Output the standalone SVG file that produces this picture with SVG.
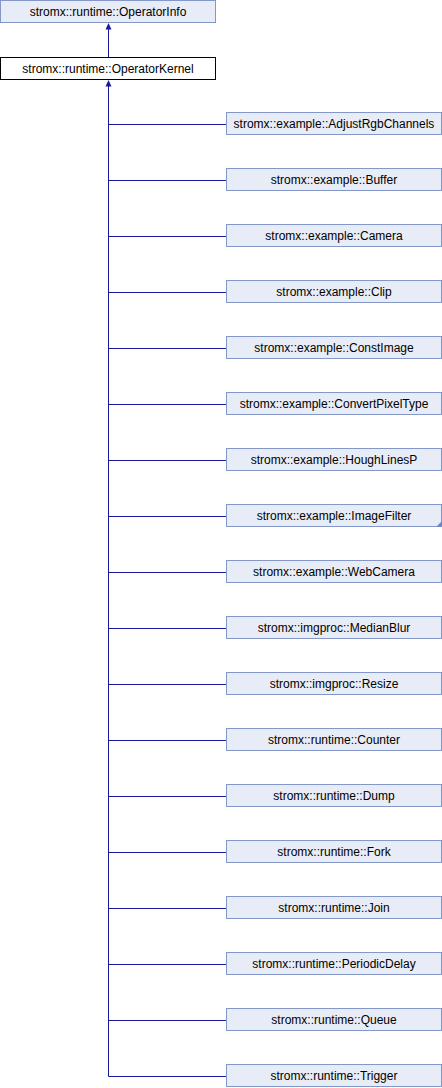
<svg xmlns="http://www.w3.org/2000/svg" width="442" height="1088" viewBox="0 0 442 1088">
<style>
.n rect{fill:#E8ECF6;stroke:#8497C9;stroke-width:1}
.cur rect{fill:#FFFFFF;stroke:#000000}
text{font-family:"Liberation Sans",Arial,sans-serif;font-size:12px;fill:#000;text-anchor:middle}
.e{stroke:#1A1A9A;stroke-width:1;fill:none}
.ah{fill:#1A1A9A}
</style>
<rect width="442" height="1088" fill="#FFFFFF"/>
<g id="connectors">
<path class="e" d="M108.5 57 V28"/>
<path class="ah" d="M108.5 23 L105.5 29.5 L111.5 29.5 Z"/>
<path class="e" d="M108.5 86 V1076.5"/>
<path class="ah" d="M108.5 80 L105.5 86.5 L111.5 86.5 Z"/>
<path class="e" d="M108.5 124.5 H226 M108.5 180.5 H226 M108.5 236.5 H226 M108.5 292.5 H226 M108.5 348.5 H226 M108.5 404.5 H226 M108.5 460.5 H226 M108.5 516.5 H226 M108.5 572.5 H226 M108.5 628.5 H226 M108.5 684.5 H226 M108.5 740.5 H226 M108.5 796.5 H226 M108.5 852.5 H226 M108.5 908.5 H226 M108.5 964.5 H226 M108.5 1020.5 H226 M108.5 1076.5 H226"/>
</g>
<g id="OperatorInfo" class="n"><rect x="0.5" y="0.5" width="215" height="22"/><text x="108" y="16">stromx::runtime::OperatorInfo</text></g>
<g id="OperatorKernel" class="n cur"><rect x="0.5" y="57.5" width="215" height="22"/><text x="108" y="73">stromx::runtime::OperatorKernel</text></g>
<g id="AdjustRgbChannels" class="n"><rect x="226.5" y="112.5" width="215" height="22"/><text x="334" y="128">stromx::example::AdjustRgbChannels</text></g>
<g id="Buffer" class="n"><rect x="226.5" y="168.5" width="215" height="22"/><text x="334" y="184">stromx::example::Buffer</text></g>
<g id="Camera" class="n"><rect x="226.5" y="224.5" width="215" height="22"/><text x="334" y="240">stromx::example::Camera</text></g>
<g id="Clip" class="n"><rect x="226.5" y="280.5" width="215" height="22"/><text x="334" y="296">stromx::example::Clip</text></g>
<g id="ConstImage" class="n"><rect x="226.5" y="336.5" width="215" height="22"/><text x="334" y="352">stromx::example::ConstImage</text></g>
<g id="ConvertPixelType" class="n"><rect x="226.5" y="392.5" width="215" height="22"/><text x="334" y="408">stromx::example::ConvertPixelType</text></g>
<g id="HoughLinesP" class="n"><rect x="226.5" y="448.5" width="215" height="22"/><text x="334" y="464">stromx::example::HoughLinesP</text></g>
<g id="ImageFilter" class="n"><rect x="226.5" y="504.5" width="215" height="22"/><text x="334" y="520">stromx::example::ImageFilter</text><path d="M442 521 V527 H436 Z" fill="#6F88C8"/></g>
<g id="WebCamera" class="n"><rect x="226.5" y="560.5" width="215" height="22"/><text x="334" y="576">stromx::example::WebCamera</text></g>
<g id="MedianBlur" class="n"><rect x="226.5" y="616.5" width="215" height="22"/><text x="334" y="632">stromx::imgproc::MedianBlur</text></g>
<g id="Resize" class="n"><rect x="226.5" y="672.5" width="215" height="22"/><text x="334" y="688">stromx::imgproc::Resize</text></g>
<g id="Counter" class="n"><rect x="226.5" y="728.5" width="215" height="22"/><text x="334" y="744">stromx::runtime::Counter</text></g>
<g id="Dump" class="n"><rect x="226.5" y="784.5" width="215" height="22"/><text x="334" y="800">stromx::runtime::Dump</text></g>
<g id="Fork" class="n"><rect x="226.5" y="840.5" width="215" height="22"/><text x="334" y="856">stromx::runtime::Fork</text></g>
<g id="Join" class="n"><rect x="226.5" y="896.5" width="215" height="22"/><text x="334" y="912">stromx::runtime::Join</text></g>
<g id="PeriodicDelay" class="n"><rect x="226.5" y="952.5" width="215" height="22"/><text x="334" y="968">stromx::runtime::PeriodicDelay</text></g>
<g id="Queue" class="n"><rect x="226.5" y="1008.5" width="215" height="22"/><text x="334" y="1024">stromx::runtime::Queue</text></g>
<g id="Trigger" class="n"><rect x="226.5" y="1064.5" width="215" height="22"/><text x="334" y="1080">stromx::runtime::Trigger</text></g>
</svg>
